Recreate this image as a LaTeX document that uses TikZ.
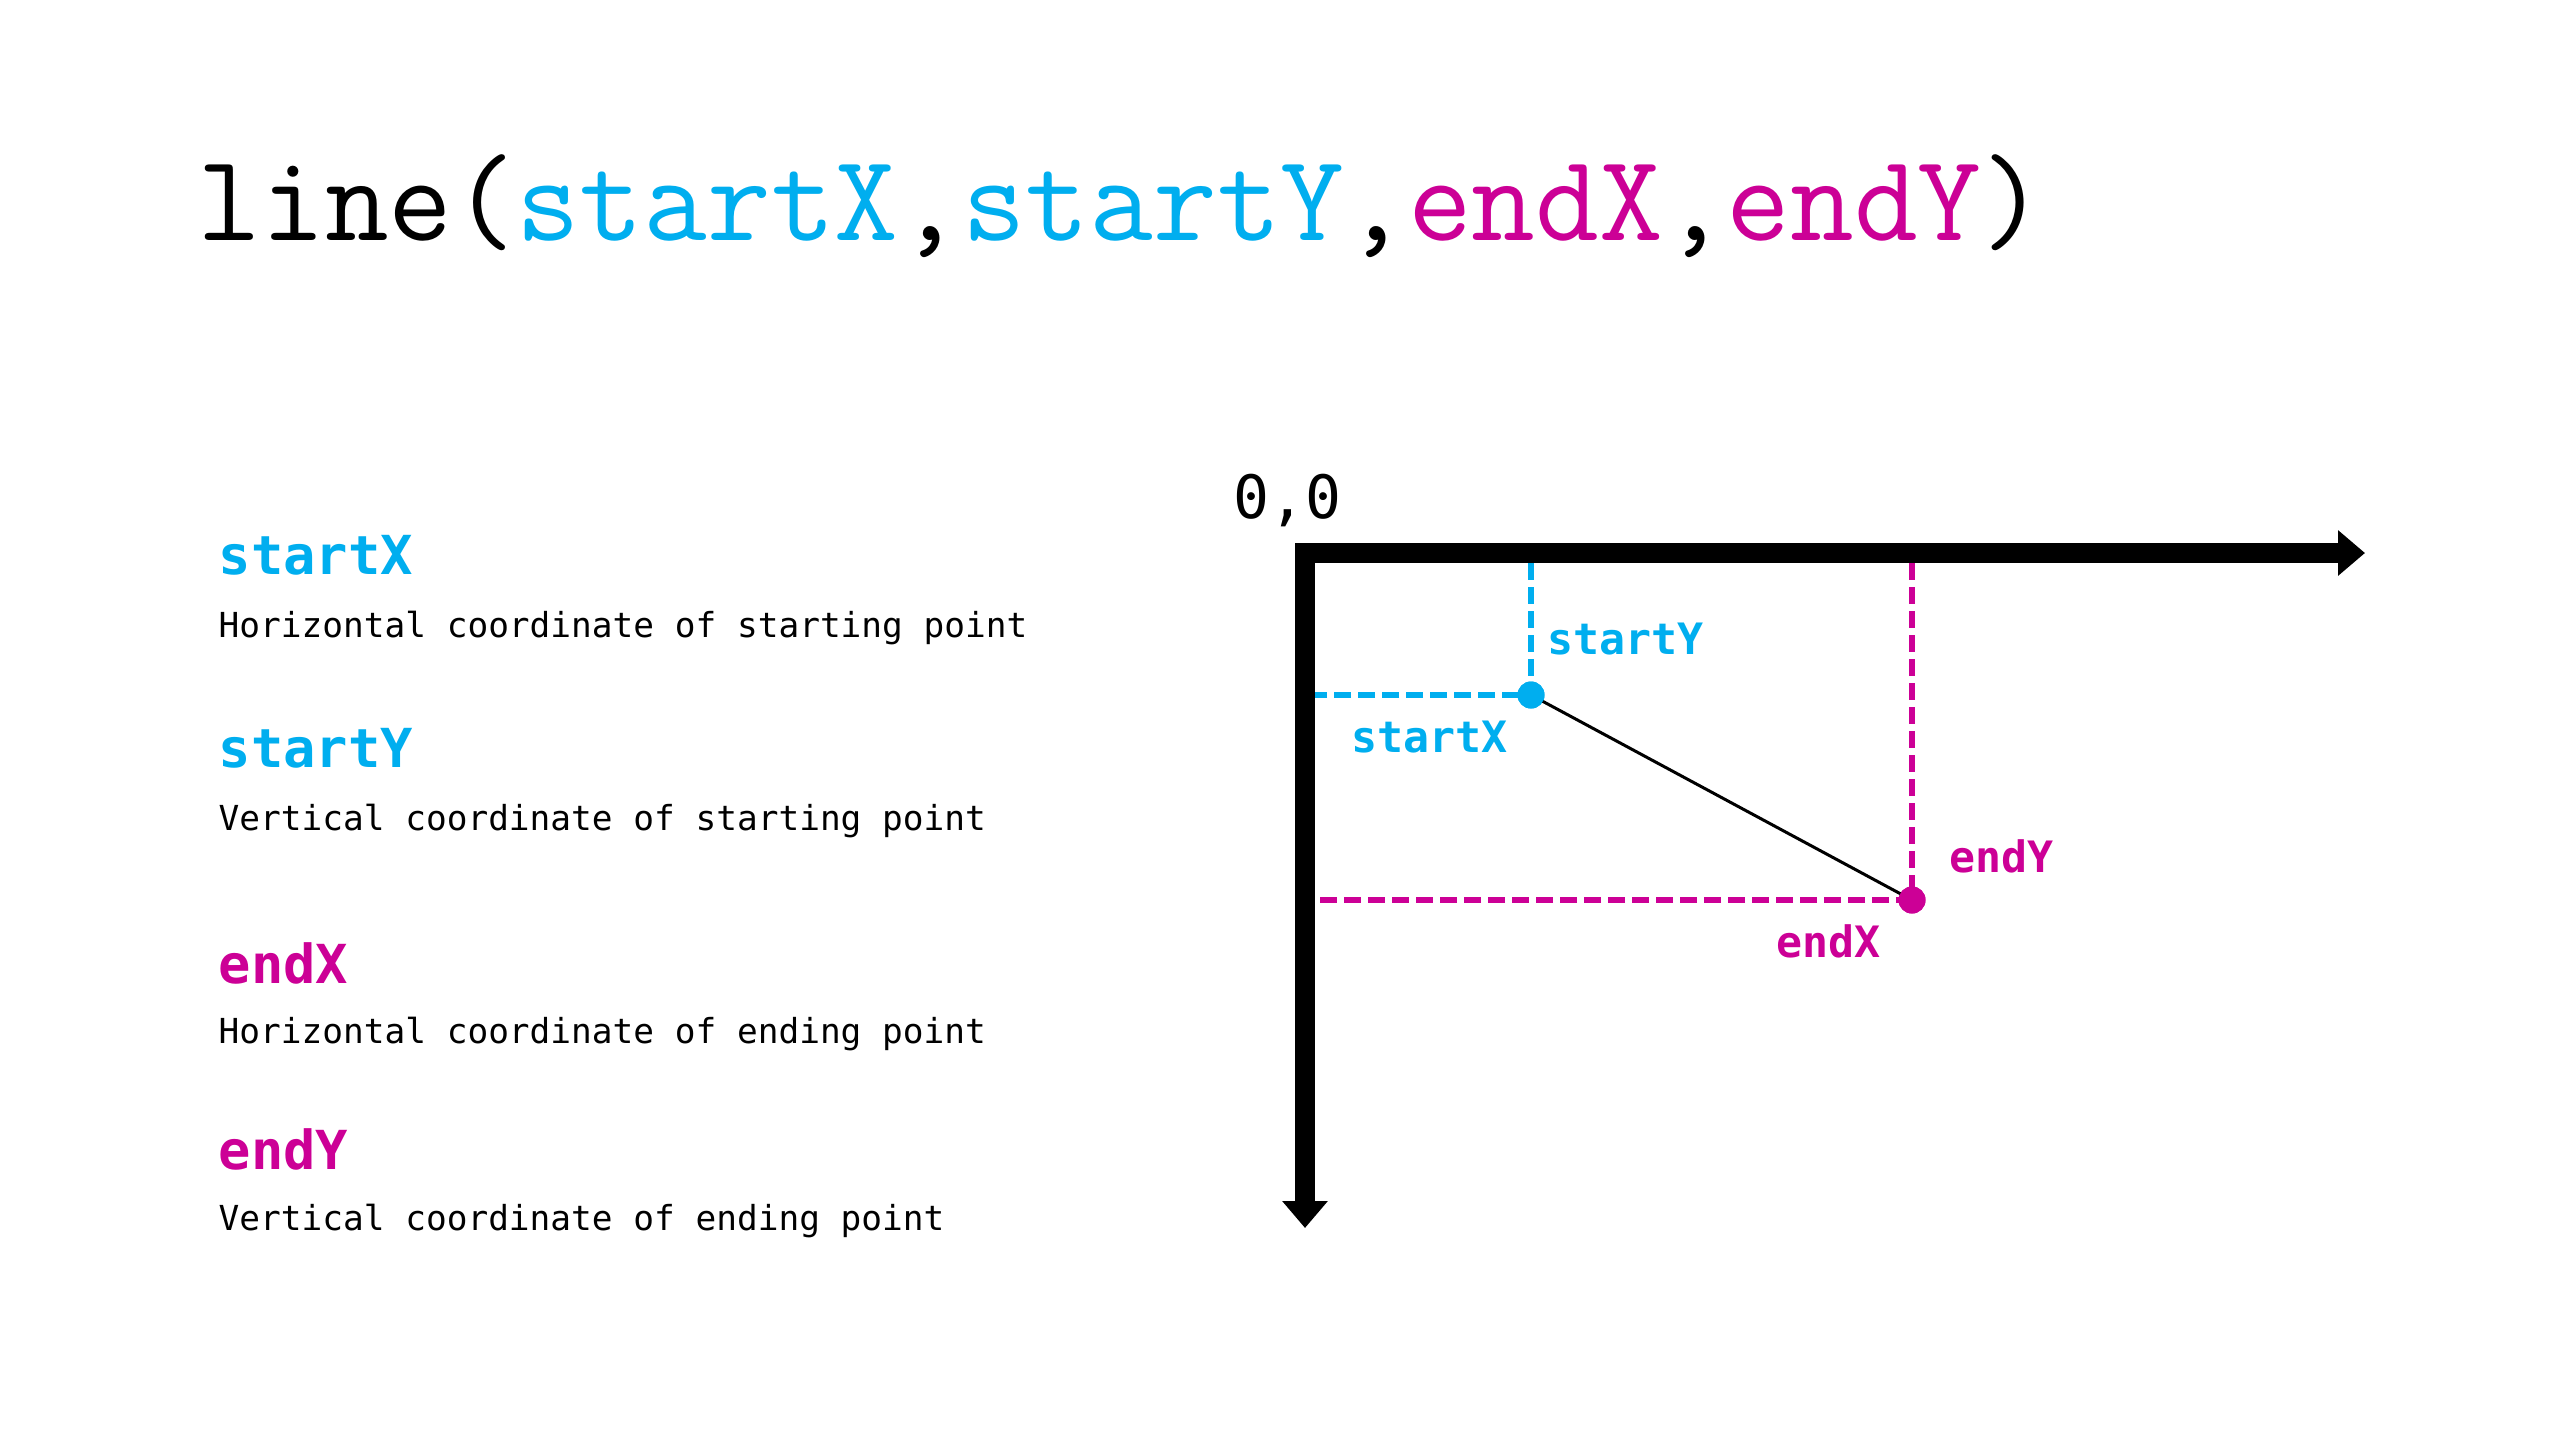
\documentclass[tikz,border=0pt]{standalone}
\usepackage{fontspec}
\usepackage{xcolor}
\usepackage{tikz}
\usetikzlibrary{calc,arrows.meta}
\newfontfamily\consfont{DejaVu Sans Mono}
\definecolor{bg}{HTML}{FFFFFF}
\definecolor{ink}{HTML}{000000}
\definecolor{startc}{HTML}{00AEEF}
\definecolor{endc}{HTML}{CC0096}
\tikzset{
  axis/.style={draw=ink, line width=0.2cm, line join=miter, {Triangle[width=0.44cm,length=0.27cm]}-{Triangle[width=0.44cm,length=0.27cm]}},
  guide/.style={line width=0.06cm, dash pattern=on 0.17cm off 0.07cm},
  seg/.style={draw=ink, line width=0.03cm},
  pt/.style={circle, inner sep=0pt, minimum size=0.27cm},
  txt/.style={inner sep=0pt, anchor=base west},
  head/.style={txt, font=\consfont\bfseries\fontsize{15.3}{18}\selectfont},
  desc/.style={txt, text=ink, font=\consfont\fontsize{9.8}{12}\selectfont},
  lab/.style={txt, font=\consfont\bfseries\fontsize{12.3}{15}\selectfont},
}

\begin{document}
\begin{tikzpicture}[x=1cm, y=-1cm]
  \useasboundingbox[fill=bg] (0,0) rectangle (25.6,14.4);
  % title
  \node[txt, font=\ttfamily\fontsize{35.2}{40}\selectfont] (title) at (1.97,2.40)
    {line({\color{startc}startX},{\color{startc}startY},{\color{endc}endX},{\color{endc}endY})};
  % left column
  \node[head, text=startc] (hsx) at (2.18,5.74) {startX};
  \node[desc] (dsx) at (2.18,6.37) {Horizontal coordinate of starting point};
  \node[head, text=startc] (hsy) at (2.18,7.67) {startY};
  \node[desc] (dsy) at (2.18,8.30) {Vertical coordinate of starting point};
  \node[head, text=endc] (hex) at (2.18,9.83) {endX};
  \node[desc] (dex) at (2.18,10.43) {Horizontal coordinate of ending point};
  \node[head, text=endc] (hey) at (2.18,11.69) {endY};
  \node[desc] (dey) at (2.18,12.30) {Vertical coordinate of ending point};
  % axes
  \coordinate (o) at (13.05,5.53);
  \coordinate (xend) at (23.65,5.53);
  \coordinate (yend) at (13.05,12.28);
  \coordinate (edge) at (13.15,5.63);
  \node[txt, font=\consfont\fontsize{17}{20}\selectfont] (origin) at (12.33,5.18) {0,0};
  % points
  \node[pt, fill=startc] (s) at (15.31,6.95) {};
  \node[pt, fill=endc] (e) at (19.12,9.00) {};
  \draw[guide, draw=startc] (s |- edge) -- (s.center) -- (s -| edge);
  \draw[guide, draw=endc] (e |- edge) -- (e.center) -- (e -| edge);
  \draw[seg] (s.center) -- (e.center);
  \node[pt, fill=startc] at (s) {};
  \node[pt, fill=endc] at (e) {};
  \draw[axis] (xend) -- (o) -- (yend);
  % labels
  \node[lab, text=startc] (lsy) at (15.47,6.54) {startY};
  \node[lab, text=startc] (lsx) at (13.51,7.52) {startX};
  \node[lab, text=endc] (ley) at (19.49,8.72) {endY};
  \node[lab, text=endc] (lex) at (17.76,9.57) {endX};
\end{tikzpicture}
\end{document}
